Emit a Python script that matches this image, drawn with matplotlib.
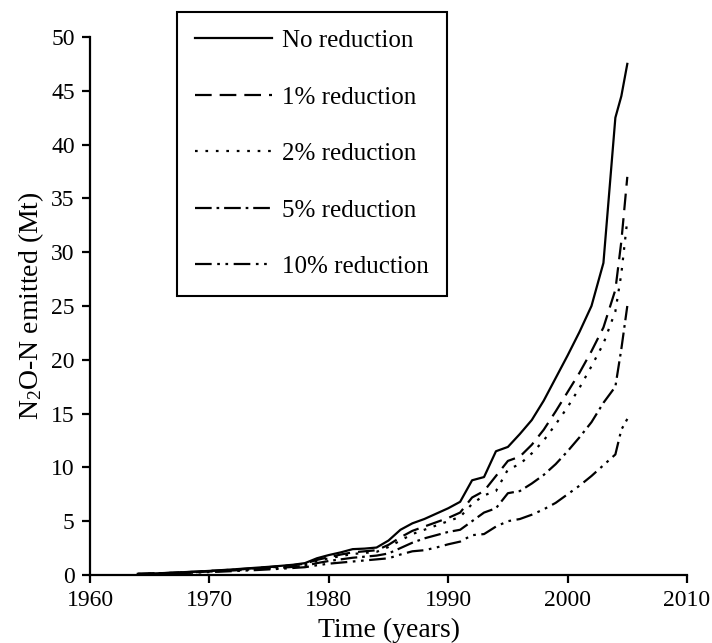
import numpy as np
import matplotlib
matplotlib.use("Agg")
import matplotlib.pyplot as plt

plt.rcParams["font.family"] = ["Liberation Serif", "DejaVu Serif"]
plt.rcParams["mathtext.fontset"] = "custom"
plt.rcParams["mathtext.rm"] = "Liberation Serif"

# annual values (Mt N2O-N), with one extra mid-2004 point
years = list(range(1964, 2005)) + [2004.5, 2005]

no_red = [0.10, 0.13, 0.17, 0.22, 0.27, 0.32, 0.38, 0.45, 0.52, 0.60, 0.68,
          0.76, 0.85, 0.95, 1.10, 1.55, 1.85, 2.10, 2.40, 2.45, 2.55, 3.20,
          4.20, 4.80, 5.20, 5.70, 6.20, 6.80, 8.80, 9.10, 11.50, 11.90, 13.10,
          14.40, 16.20, 18.30, 20.40, 22.60, 25.00, 29.00, 42.50, 44.50, 47.50]
red_1 = [0.10, 0.13, 0.16, 0.21, 0.26, 0.31, 0.37, 0.43, 0.50, 0.57, 0.65,
         0.73, 0.82, 0.91, 1.05, 1.40, 1.65, 1.90, 2.10, 2.20, 2.30, 2.80,
         3.50, 4.10, 4.50, 4.90, 5.30, 5.80, 7.20, 7.80, 9.20, 10.60, 11.00,
         12.10, 13.50, 15.20, 17.00, 18.80, 20.80, 23.00, 26.50, 31.00, 37.00]
red_2 = [0.10, 0.12, 0.16, 0.20, 0.25, 0.30, 0.36, 0.42, 0.48, 0.55, 0.62,
         0.70, 0.78, 0.87, 1.00, 1.30, 1.55, 1.75, 1.95, 2.05, 2.15, 2.60,
         3.20, 3.80, 4.20, 4.60, 5.00, 5.40, 6.60, 7.40, 7.80, 9.80, 10.30,
         11.30, 12.50, 14.00, 15.60, 17.40, 19.40, 21.50, 24.50, 28.00, 33.00]
red_5 = [0.09, 0.11, 0.14, 0.18, 0.22, 0.27, 0.32, 0.37, 0.42, 0.48, 0.54,
         0.60, 0.67, 0.75, 0.85, 1.10, 1.30, 1.45, 1.60, 1.70, 1.80, 2.00,
         2.50, 3.00, 3.40, 3.70, 4.00, 4.20, 5.00, 5.80, 6.20, 7.60, 7.80,
         8.50, 9.30, 10.30, 11.50, 12.80, 14.20, 16.00, 17.50, 21.00, 25.00]
red_10 = [0.08, 0.10, 0.12, 0.15, 0.19, 0.23, 0.27, 0.31, 0.36, 0.41, 0.46,
          0.52, 0.58, 0.65, 0.72, 0.90, 1.05, 1.15, 1.25, 1.35, 1.45, 1.55,
          1.90, 2.20, 2.30, 2.55, 2.85, 3.10, 3.70, 3.80, 4.50, 5.00, 5.20,
          5.60, 6.10, 6.70, 7.50, 8.30, 9.20, 10.20, 11.20, 13.50, 14.50]

labels = ["No reduction", "1% reduction", "2% reduction",
          "5% reduction", "10% reduction"]
styles = ["-",
          (0, (7.5, 3.6)),
          (0, (1.2, 3.5)),
          (0, (7.5, 2.2, 1.2, 2.2)),
          (0, (7.5, 2.5, 1.2, 2.5, 1.2, 2.5))]

fig = plt.figure(figsize=(7.12, 6.43), dpi=100)
ax = fig.add_axes([0.1264, 0.1058, 0.8385, 0.8367])

for vals, lab, ls in zip([no_red, red_1, red_2, red_5, red_10], labels, styles):
    ax.plot(years, vals, color="black", lw=1.6, linestyle=ls, label=lab)

ax.set_xlim(1960, 2010)
ax.set_ylim(0, 50)
ax.set_xticks(np.arange(1960, 2011, 10))
ax.set_yticks(np.arange(0, 51, 5))
for s in ["top", "right"]:
    ax.spines[s].set_visible(False)
for s in ["left", "bottom"]:
    ax.spines[s].set_linewidth(1.6)
ax.tick_params(direction="out", length=6, width=1.6, labelsize=17, pad=5)

ax.set_xlabel("Time (years)", fontsize=20, labelpad=5)
ax.set_ylabel("N$\\mathregular{_2}$O-N emitted (Mt)", fontsize=20, labelpad=4)

leg = fig.legend(loc="upper left", bbox_to_anchor=(0.249, 0.981),
                 bbox_transform=fig.transFigure, fontsize=18,
                 frameon=True, fancybox=False, framealpha=1,
                 handlelength=3.1, handletextpad=0.4, labelspacing=1.36,
                 borderpad=0.7, borderaxespad=0)
leg.get_frame().set_edgecolor("black")
leg.get_frame().set_linewidth(1.5)

fig.savefig("out.png", dpi=100)
